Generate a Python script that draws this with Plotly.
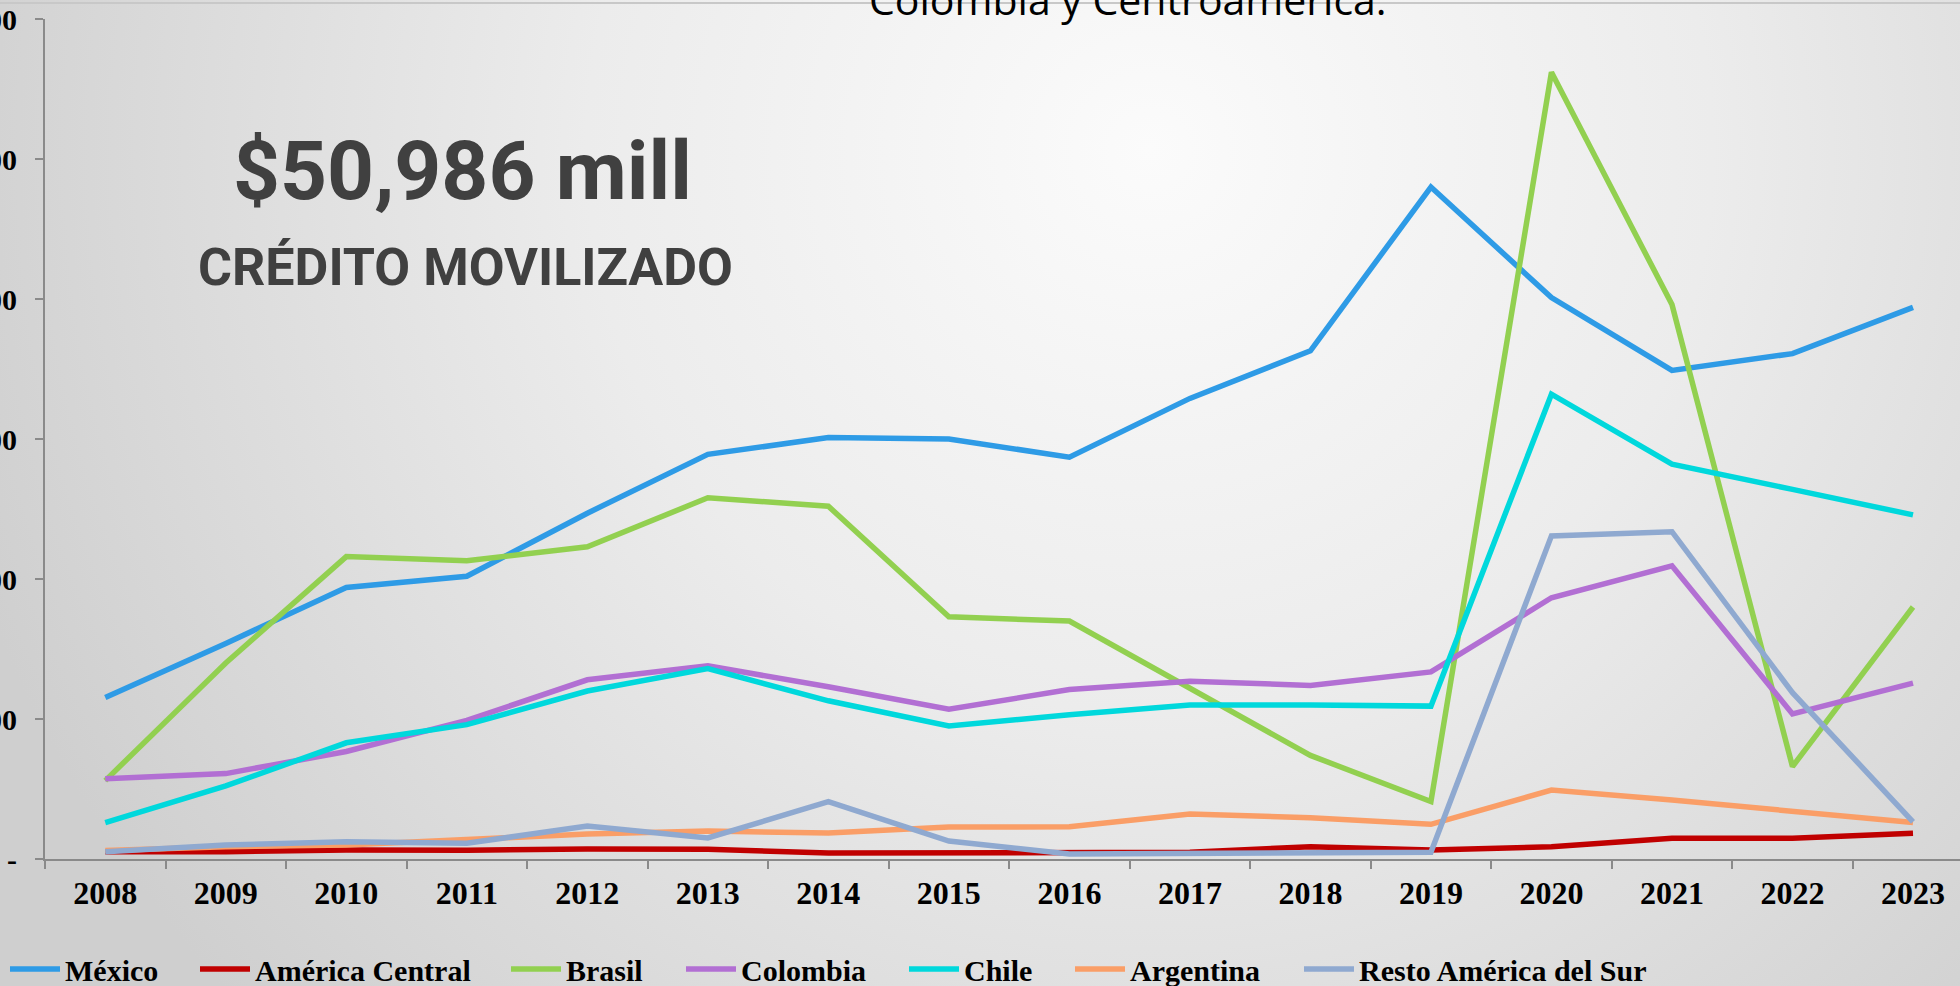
import base64

import plotly.graph_objects as go

# US$ millones por año
years = ["2008", "2009", "2010", "2011", "2012", "2013", "2014", "2015",
         "2016", "2017", "2018", "2019", "2020", "2021", "2022", "2023"]

mexico = [577, 770, 970, 1010, 1235, 1445, 1505, 1500, 1435, 1645, 1815, 2400, 2005, 1745, 1805, 1970]
america_central = [26, 26, 32, 31, 36, 35, 21, 21, 21, 24, 44, 32, 44, 74, 74, 92]
brasil = [280, 700, 1080, 1065, 1115, 1290, 1260, 865, 850, 610, 370, 205, 2810, 1980, 330, 900]
colombia = [287, 305, 384, 495, 640, 690, 615, 535, 605, 635, 620, 668, 933, 1047, 518, 628]
chile = [130, 261, 415, 480, 600, 680, 565, 475, 515, 550, 550, 546, 1660, 1410, 1320, 1229]
argentina = [30, 44, 50, 68, 89, 100, 93, 114, 115, 161, 147, 124, 246, 211, 172, 130]
resto_sur = [26, 50, 62, 56, 118, 75, 205, 64, 18, 20, 20, 24, 1154, 1169, 594, 133]

y_ticks = [0, 500, 1000, 1500, 2000, 2500, 3000]
y_tick_text = ["-", "500", "1,000", "1,500", "2,000", "2,500", "3,000"]

series = [
    ("México", mexico, "#2E9BE6"),
    ("América Central", america_central, "#C00000"),
    ("Brasil", brasil, "#92D050"),
    ("Colombia", colombia, "#B26FD3"),
    ("Chile", chile, "#00D8DC"),
    ("Argentina", argentina, "#FA9E67"),
    ("Resto América del Sur", resto_sur, "#8FA9D0"),
]

# page geometry (px)
W, H = 1960, 986
ML, MT, MB = 45, 19, 127
PW, PH = W - ML, H - MT - MB


def px_x(p):
    return (p - ML) / PW


def px_y(p):
    return (H - MB - p) / PH


# soft radial gradient background
bg_svg = (
    '<svg xmlns="http://www.w3.org/2000/svg" width="1960" height="986" '
    'viewBox="0 0 1960 986" preserveAspectRatio="none">'
    '<defs><radialGradient id="g" gradientUnits="userSpaceOnUse" '
    'cx="1150" cy="150" r="1250">'
    '<stop offset="0" stop-color="#fbfbfb"/>'
    '<stop offset="0.45" stop-color="#ececec"/>'
    '<stop offset="1" stop-color="#cfcfcf"/>'
    '</radialGradient></defs>'
    '<rect width="1960" height="986" fill="url(#g)"/></svg>'
)
bg_src = "data:image/svg+xml;base64," + base64.b64encode(bg_svg.encode()).decode()

serif = "Liberation Serif"
sans_bold = "Roboto"

fig = go.Figure()

legend_left = [10, 200, 511, 686, 909, 1075, 1304]
for i, (name, vals, col) in enumerate(series):
    key = "legend" if i == 0 else f"legend{i + 1}"
    fig.add_trace(go.Scatter(
        x=years, y=vals, name=name, mode="lines",
        line={"color": col, "width": 5.5},
        legend=key,
    ))
    fig.update_layout({key: {
        "x": px_x(legend_left[i] - 5), "y": px_y(969),
        "xanchor": "left", "yanchor": "middle",
        "bgcolor": "rgba(0,0,0,0)",
        "font": {"family": serif, "size": 30, "color": "black", "weight": "bold"},
        "itemwidth": 50,
    }})

fig.update_layout(
    width=W, height=H,
    margin={"l": ML, "r": 0, "t": MT, "b": MB, "autoexpand": False},
    paper_bgcolor="#e6e6e6",
    plot_bgcolor="rgba(0,0,0,0)",
    showlegend=True,
    xaxis={
        "type": "category", "range": [-0.5, 15.39], "automargin": False,
        "tickson": "boundaries", "ticks": "outside", "ticklen": 8,
        "tickwidth": 2, "tickcolor": "#8a8a8a",
        "showline": True, "linecolor": "#8a8a8a", "linewidth": 2,
        "showgrid": False, "zeroline": False,
        "tickfont": {"family": serif, "size": 32, "color": "black", "weight": "bold"},
        "ticklabelstandoff": 5,
    },
    yaxis={
        "range": [0, 3000], "tickvals": y_ticks, "ticktext": y_tick_text,
        "automargin": False,
        "ticks": "outside", "ticklen": 8, "tickwidth": 2, "tickcolor": "#8a8a8a",
        "showline": True, "linecolor": "#8a8a8a", "linewidth": 2,
        "showgrid": False, "zeroline": False,
        "tickfont": {"family": serif, "size": 30, "color": "black", "weight": "bold"},
        "ticklabelstandoff": 12,
    },
    images=[{
        "source": bg_src, "xref": "paper", "yref": "paper",
        "x": px_x(0), "y": px_y(0), "sizex": W / PW, "sizey": H / PH,
        "xanchor": "left", "yanchor": "top", "sizing": "stretch", "layer": "below",
    }],
    shapes=[{
        "type": "line", "xref": "paper", "yref": "paper",
        "x0": px_x(0), "x1": px_x(W), "y0": px_y(3), "y1": px_y(3),
        "line": {"color": "#c8c8c8", "width": 2},
    }],
    annotations=[
        {"text": "$50,986 mill", "xref": "paper", "yref": "paper",
         "x": px_x(462), "y": px_y(171), "xanchor": "center", "yanchor": "middle",
         "showarrow": False,
         "font": {"family": sans_bold, "size": 82, "color": "#404040", "weight": "bold"}},
        {"text": "CRÉDITO MOVILIZADO", "xref": "paper", "yref": "paper",
         "x": px_x(465), "y": px_y(268), "xanchor": "center", "yanchor": "middle",
         "showarrow": False,
         "font": {"family": sans_bold, "size": 52, "color": "#404040", "weight": "bold"}},
        {"text": "Colombia y Centroamérica.", "xref": "paper", "yref": "paper",
         "x": px_x(1128), "y": px_y(29), "xanchor": "center", "yanchor": "bottom",
         "showarrow": False,
         "font": {"family": "Open Sans", "size": 41, "color": "black"}},
    ],
)

# the page body keeps no margin, so the figure fills the window
fig.write_html("out.html", config={"displayModeBar": False},
               post_script="document.body.style.margin = '0';")
